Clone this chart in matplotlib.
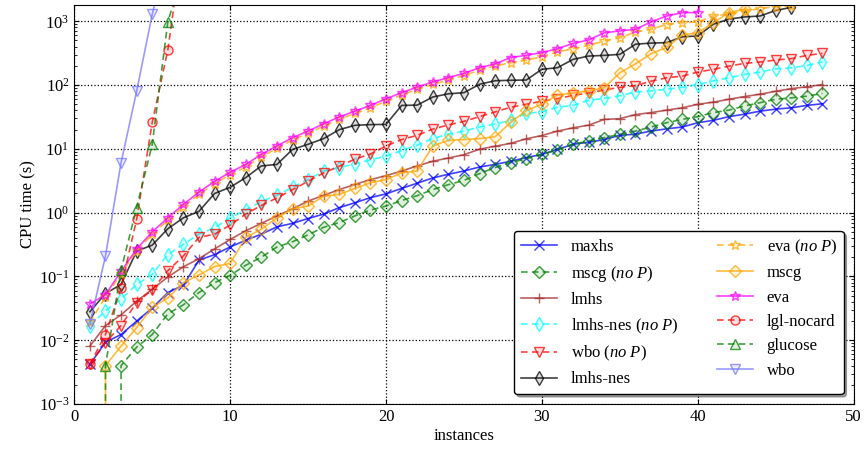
import numpy as np
import matplotlib
matplotlib.use("Agg")
import matplotlib.pyplot as plt
from matplotlib.colors import to_rgba

plt.rcParams["font.family"] = ["Liberation Serif", "DejaVu Serif"]
plt.rcParams["mathtext.fontset"] = "custom"
plt.rcParams["mathtext.rm"] = "Liberation Serif"
plt.rcParams["mathtext.it"] = "Liberation Serif:italic"
plt.rcParams["font.size"] = 12

# sorted CPU times per solver (cactus plot); 0 means solved in no measurable time
maxhs = [0.0042, 0.0093, 0.0123, 0.020, 0.032, 0.056, 0.073, 0.18, 0.22, 0.29,
         0.37, 0.46, 0.60, 0.68, 0.81, 0.95, 1.2, 1.43, 1.72, 1.97,
         2.4, 2.9, 3.5, 4.0, 4.5, 5.2, 5.7, 6.4, 7.3, 8.2,
         9.8, 11.8, 12.7, 14, 16.3, 17, 19, 20.6, 22, 25.7,
         28, 32, 35, 39, 42, 44, 48, 51]
mscg_nop = [0, 0, 0.004, 0.0078, 0.0123, 0.026, 0.036, 0.056, 0.080, 0.104,
            0.15, 0.20, 0.29, 0.35, 0.45, 0.59, 0.70, 0.89, 1.1, 1.27,
            1.55, 1.85, 2.3, 2.75, 3.2, 4.1, 5.1, 6.1, 7.0, 8.2,
            9.6, 11.8, 13.3, 15, 16.9, 19, 22, 25.7, 29, 32,
            37, 40.5, 47, 53, 60, 63, 67, 74]
lmhs = [0.0081, 0.017, 0.025, 0.041, 0.063, 0.098, 0.142, 0.19, 0.27, 0.38,
        0.52, 0.68, 0.89, 1.15, 1.52, 1.87, 2.3, 2.77, 3.3, 3.8,
        4.5, 5.4, 6.4, 7.2, 8.1, 9.9, 11, 12.2, 14.4, 16.2,
        19, 21.4, 23.5, 29, 29.7, 34.5, 37, 40.5, 44, 50,
        54, 60, 66, 72, 80, 88, 94, 102]
lmhs_nes_nop = [0.017, 0.029, 0.044, 0.075, 0.108, 0.22, 0.32, 0.46, 0.58, 0.83,
                1.1, 1.5, 1.87, 2.5, 3.3, 4.5, 5.1, 5.8, 6.7, 7.7,
                9.4, 11.4, 14.5, 17, 19, 22, 24.5, 28, 36, 38,
                45, 48, 58, 62, 68, 78, 81, 86, 92, 102,
                116, 130, 147, 160, 180, 186, 203, 230]
wbo_nop = [0.0042, 0.0092, 0.017, 0.039, 0.062, 0.123, 0.21, 0.41, 0.46, 0.64,
           0.95, 1.3, 1.7, 2.3, 3.1, 4.2, 5.35, 6.9, 8.3, 11.1,
           14, 16.3, 20.4, 23.7, 27, 32, 38, 45, 50, 56,
           61, 69, 75, 84, 92, 98, 115, 130, 138, 160,
           176, 198, 219, 230, 247, 259, 292, 314]
lmhs_nes = [0.028, 0.054, 0.075, 0.25, 0.31, 0.56, 0.83, 1.05, 2.0, 2.5,
            3.55, 5.4, 5.7, 9.8, 11.8, 14.5, 20, 23.4, 24, 24.2,
            48, 48.5, 65, 73, 76, 103, 117, 119, 120, 177,
            187, 253, 285, 292, 303, 437, 455, 463, 570, 590,
            900, 1080, 1170, 1210, 1480, 1650]
eva_nop = [0.019, 0.048, 0.11, 0.25, 0.46, 0.76, 1.24, 1.93, 2.85, 3.95,
           5.2, 7.5, 10.2, 13.8, 17.5, 22.8, 29, 36, 44, 56,
           70, 86, 103, 120, 141, 172, 200, 224, 245, 279,
           330, 372, 420, 490, 550, 680, 750, 890, 950, 975,
           1210, 1290, 1450, 1580, 1690, 1740]
mscg = [0, 0.004, 0.0081, 0.0158, 0.033, 0.046, 0.080, 0.106, 0.143, 0.16,
        0.41, 0.55, 0.83, 1.15, 1.27, 1.82, 1.94, 2.4, 2.95, 3.3,
        4.2, 4.5, 11.1, 13.6, 14, 14.5, 15.5, 26, 40, 50,
        70, 75, 81, 91, 156, 215, 310, 390, 610, 660,
        950, 1365, 1540]
eva = [0.037, 0.052, 0.12, 0.27, 0.50, 0.83, 1.35, 2.1, 3.1, 4.3,
       5.7, 8.2, 11.1, 15, 19, 24.8, 31.6, 39, 48, 61,
       76, 93, 112, 131, 153, 187, 215, 270, 293, 323,
       372, 450, 510, 660, 705, 750, 975, 1210, 1365, 1370,
       10000]
lgl_nocard = [0.0042, 0.0123, 0.066, 0.79, 26, 355, 20000]
glucose = [0, 0.004, 0.126, 1.2, 11.8, 975, 6300]
wbo = [0.018, 0.21, 6.1, 80, 1290, 12000]

series = [
    (maxhs, "maxhs", "blue", "-", "x", 6.5),
    (mscg_nop, r"mscg $\it{(no\ P)}$", "green", "--", "D", 6.5),
    (lmhs, "lmhs", "brown", "-", "+", 7.5),
    (lmhs_nes_nop, r"lmhs-nes $\it{(no\ P)}$", "cyan", "--", "d", 7.5),
    (wbo_nop, r"wbo $\it{(no\ P)}$", "red", "--", "v", 7.5),
    (lmhs_nes, "lmhs-nes", "black", "-", "d", 7.5),
    (eva_nop, r"eva $\it{(no\ P)}$", "orange", "--", "*", 7.5),
    (mscg, "mscg", "orange", "-", "D", 6.5),
    (eva, "eva", "magenta", "-", "*", 7.5),
    (lgl_nocard, "lgl-nocard", "red", "--", "o", 6.5),
    (glucose, "glucose", "green", "--", "^", 7),
    (wbo, "wbo", "#7777ff", "-", "v", 7.5),
]

fig = plt.figure(figsize=(8.64, 4.54), dpi=100)
ax = fig.add_axes([0.086, 0.11, 0.902, 0.879])

for values, label, color, ls, marker, ms in series:
    x = np.arange(1, len(values) + 1)
    line_color = to_rgba(color, 0.75)
    kw = dict(dashes=(4, 2.5)) if ls == "--" else {}
    ax.plot(x, values, linestyle=ls, color=line_color, marker=marker,
            markersize=ms, markeredgecolor=line_color,
            markerfacecolor=to_rgba(color, 0.12), markeredgewidth=1.0,
            linewidth=1.2, label=label, **kw)

ax.set_yscale("log")
ax.set_xlim(0, 50)
ax.set_ylim(1e-3, 1800)
ax.set_xlabel("instances", labelpad=2)
ax.set_ylabel("CPU time (s)", labelpad=2)
ax.grid(True, color="k", linestyle=":", linewidth=0.9)
ax.tick_params(which="both", direction="in", top=True, right=True)

ax.legend(loc="lower right", ncol=2, shadow=True, fancybox=True,
          framealpha=1, edgecolor="black", handlelength=2.2,
          columnspacing=2.3, borderaxespad=0.6, labelspacing=0.5)

fig.savefig("out.png", dpi=100)
